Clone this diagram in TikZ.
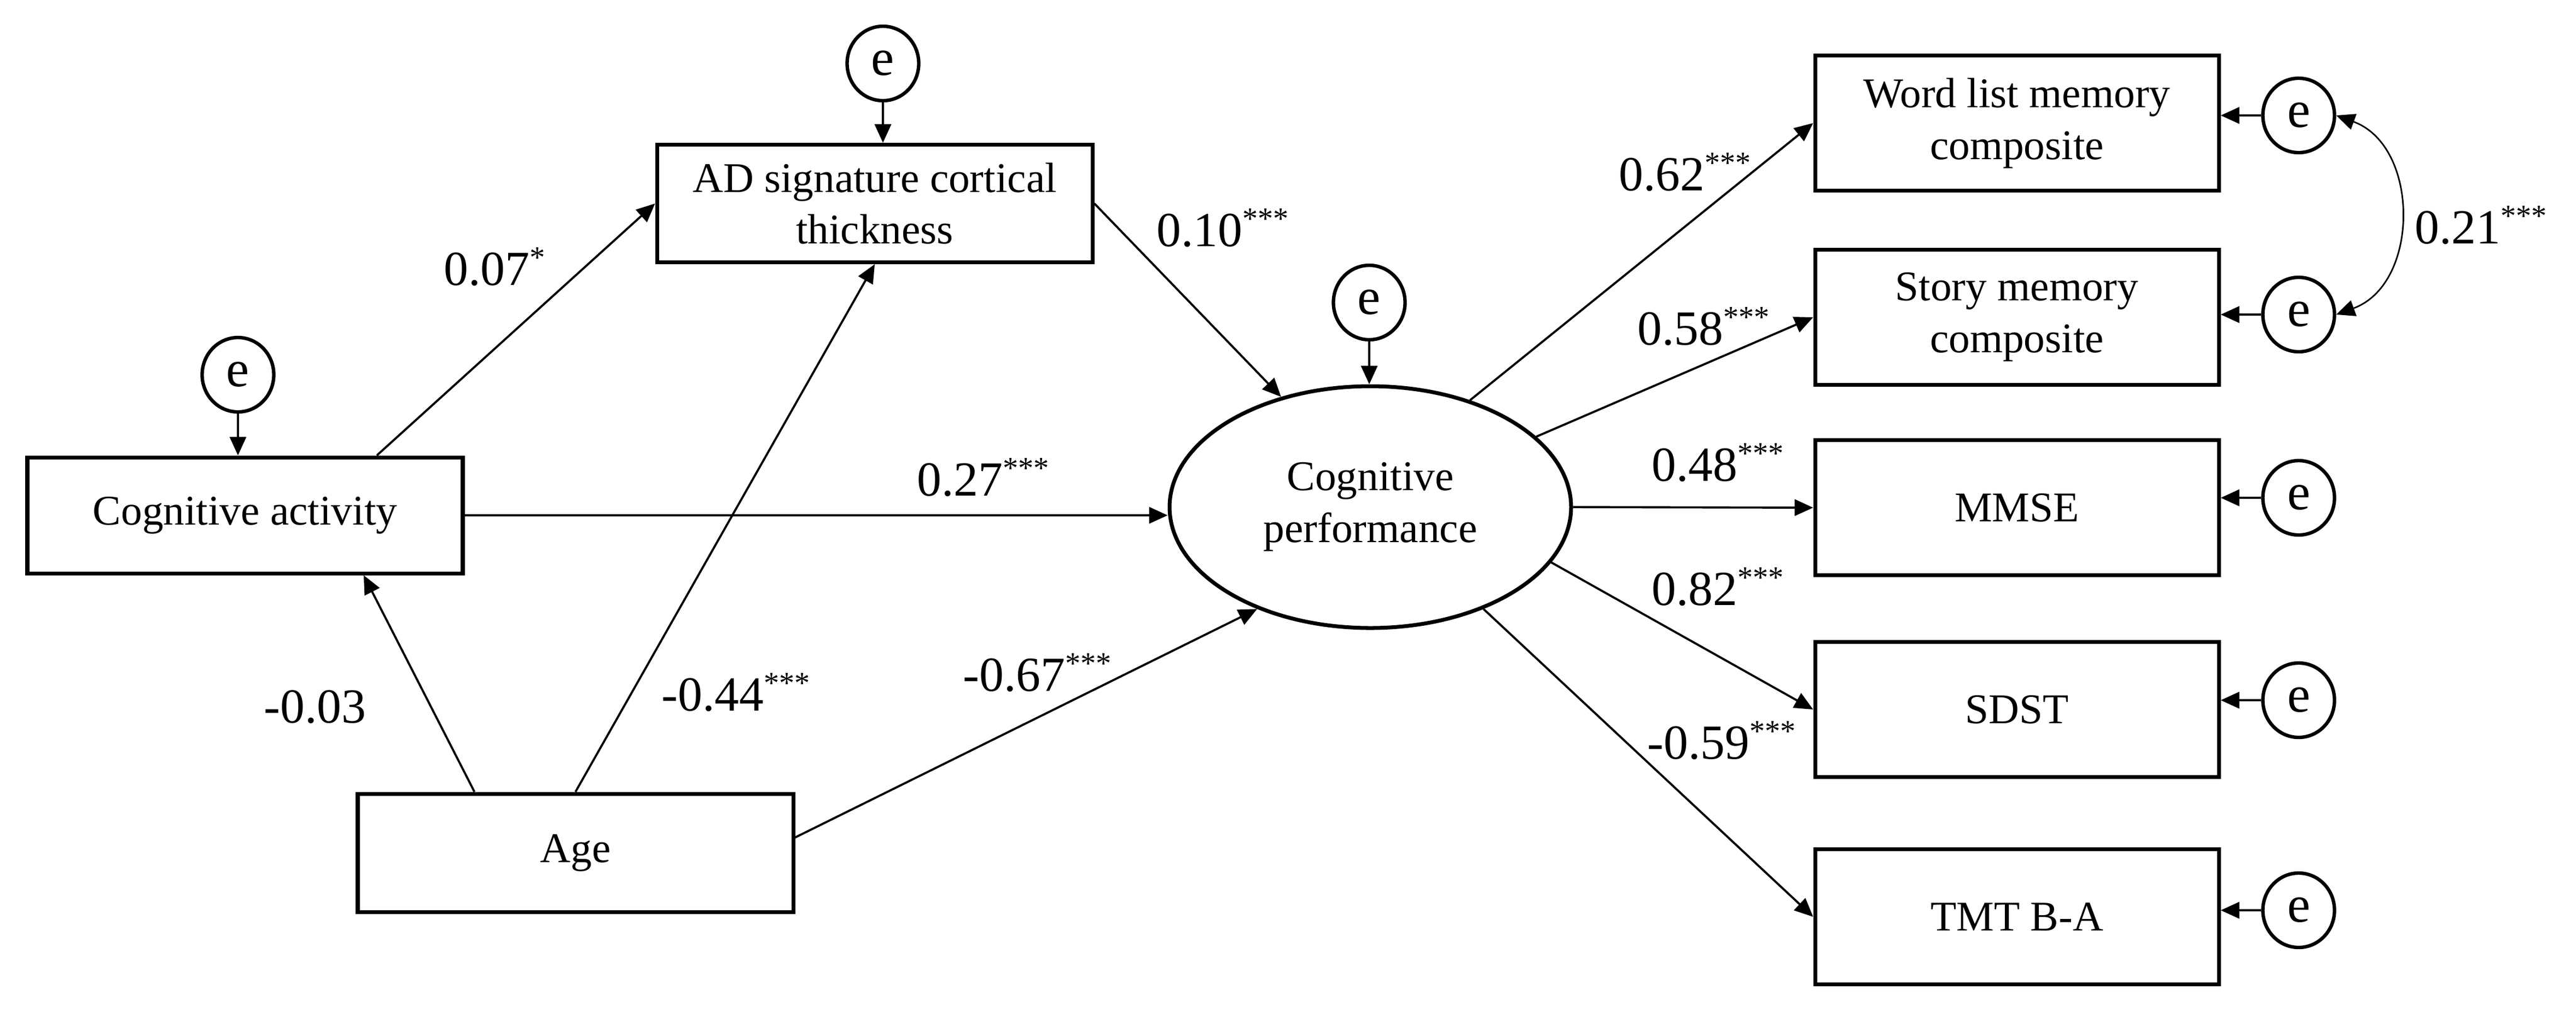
\documentclass[tikz,border=0pt]{standalone}
\usepackage{fontspec}
\setmainfont{Liberation Serif}
\usetikzlibrary{shapes.geometric,arrows.meta,calc}
\newcommand{\sig}[1]{\raisebox{9pt}{\fontsize{16}{16}\selectfont #1}}

\begin{document}
\begin{tikzpicture}[
    obs/.style={draw, line width=2pt, rectangle, inner sep=0pt, align=center,
      minimum width=7.96cm, minimum height=2.15cm, font=\fontsize{22}{27}\selectfont},
    ind/.style={obs, minimum width=7.38cm, minimum height=2.47cm},
    lat/.style={draw, line width=2pt, ellipse, inner sep=0pt, align=center,
      minimum width=7.34cm, minimum height=4.42cm, font=\fontsize{22}{27}\selectfont},
    err/.style={draw, line width=1.8pt, ellipse, inner sep=0pt,
      minimum width=1.31cm, minimum height=1.36cm, font=\fontsize{27}{27}\selectfont},
    coef/.style={inner sep=0pt, anchor=base west, font=\fontsize{25.5}{26}\selectfont},
    >={Triangle[length=3.4mm,width=3mm]}
  ]
  \useasboundingbox (0,0) rectangle (47.09,-18.49);
  \draw
    (15.99,-3.72) node[obs] (AD){AD signature cortical\\thickness}
    (4.48,-9.42) node[obs, minimum height=2.12cm] (CA){Cognitive activity}
    (10.52,-15.59) node[obs, minimum height=2.16cm] (Age){Age}
    (25.05,-9.27) node[lat] (CP){Cognitive\\performance}
    (36.87,-2.25) node[ind] (WL){Word list memory\\composite}
    (36.87,-5.80) node[ind] (SM){Story memory\\composite}
    (36.87,-9.28) node[ind] (MMSE){MMSE}
    (36.87,-12.97) node[ind] (SDST){SDST}
    (36.87,-16.76) node[ind] (TMT){TMT B-A};
  \draw
    (16.14,-1.16) node[err] (eAD){e}
    (4.35,-6.85) node[err] (eCA){e}
    (25.03,-5.53) node[err] (eCP){e}
    (42.02,-2.11) node[err] (eWL){e}
    (42.02,-5.75) node[err] (eSM){e}
    (42.02,-9.10) node[err] (eMMSE){e}
    (42.02,-12.80) node[err] (eSDST){e}
    (42.02,-16.64) node[err] (eTMT){e};
  \path
    (8.11,-5.21) node[coef] (c07){0.07\sig{*}}
    (21.14,-4.50) node[coef] (c10){0.10\sig{***}}
    (16.76,-9.06) node[coef] (c27){0.27\sig{***}}
    (4.82,-13.21) node[coef] (c03){-0.03}
    (12.09,-12.99) node[coef] (c44){-0.44\sig{***}}
    (17.60,-12.63) node[coef] (c67){-0.67\sig{***}}
    (29.59,-3.48) node[coef] (c62){0.62\sig{***}}
    (29.93,-6.30) node[coef] (c58){0.58\sig{***}}
    (30.19,-8.79) node[coef] (c48){0.48\sig{***}}
    (30.19,-11.06) node[coef] (c82){0.82\sig{***}}
    (30.11,-13.87) node[coef] (c59){-0.59\sig{***}}
    (44.14,-4.45) node[coef] (c21){0.21\sig{***}};
  \begin{scope}[->, line width=1.1pt]
    \draw (eAD) to (eAD |- AD.north);
    \draw (eCA) to (eCA |- CA.north);
    \draw (eCP) to (eCP |- CP.north);
    \draw ($(CA.north west)!.8!(CA.north east)$) to (AD.west);
    \draw ($(Age.north west)!.27!(Age.north east)$) to ($(CA.south west)!.77!(CA.south east)$);
    \draw (Age.north) to (AD.south);
    \draw (Age.4) to (CP.222);
    \draw (AD.east) to (CP.129);
    \draw (CA.east) to (CA.east -| CP.west);
    \draw (CP.47) to (WL.west);
    \draw (CP.23) to (SM.west);
    \draw (CP.east) to (MMSE.west);
    \draw (CP.-17) to (SDST.west);
    \draw (CP.-42) to (TMT.west);
    \draw (eWL) to (eWL -| WL.east);
    \draw (eSM) to (eSM -| SM.east);
    \draw (eMMSE) to (eMMSE -| MMSE.east);
    \draw (eSDST) to (eSDST -| SDST.east);
    \draw (eTMT) to (eTMT -| TMT.east);
    \draw[<->, line width=0.8pt] (eWL.east) to[out=-20, in=20, looseness=1.15] (eSM.east);
  \end{scope}
\end{tikzpicture}
\end{document}
